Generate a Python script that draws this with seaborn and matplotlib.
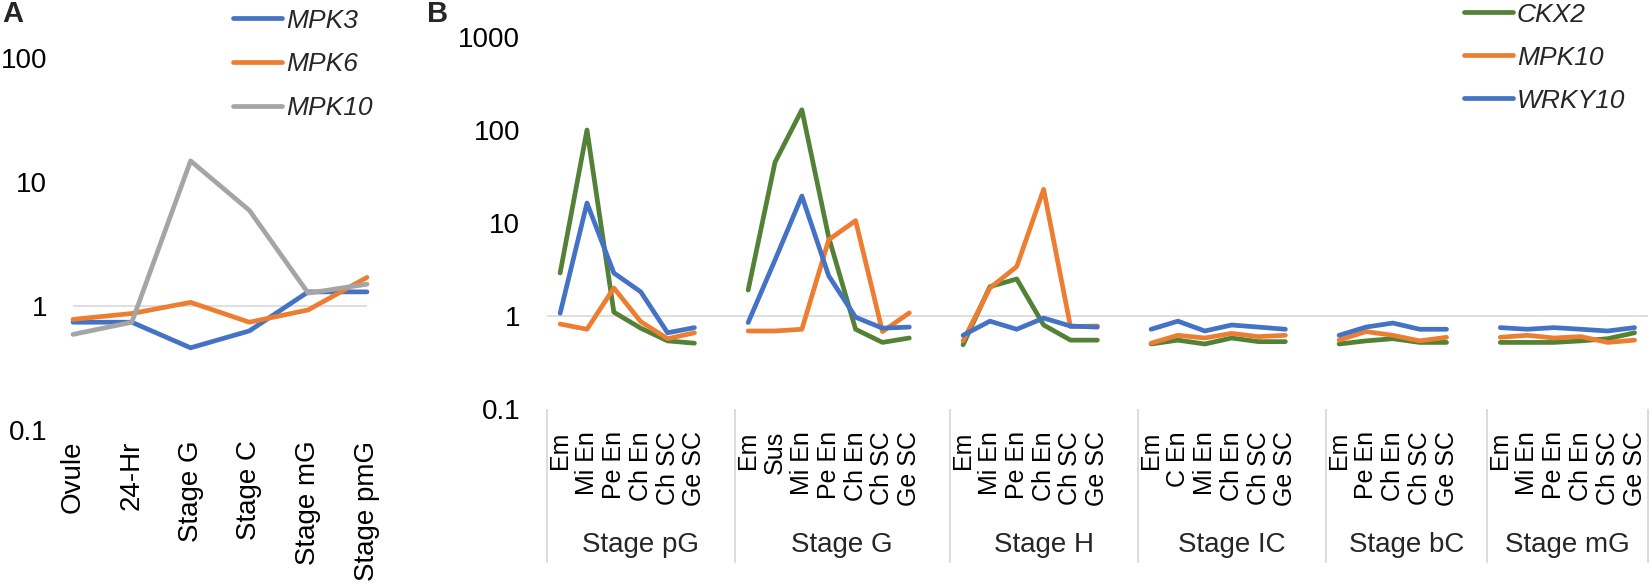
import numpy as np
import pandas as pd
import matplotlib
matplotlib.use("Agg")
import matplotlib.pyplot as plt
from matplotlib.lines import Line2D
from matplotlib.ticker import NullLocator
from matplotlib.transforms import blended_transform_factory
import seaborn as sns

# ---------------- Panel A data ----------------
groups_a = ["Ovule", "24-Hr", "Stage G", "Stage C", "Stage mG", "Stage pmG"]
genes_a = ["MPK3", "MPK6", "MPK10"]
mpk3_a = [0.74, 0.74, 0.46, 0.63, 1.30, 1.30]
mpk6_a = [0.78, 0.87, 1.07, 0.74, 0.93, 1.70]
mpk10_a = [0.59, 0.74, 14.8, 5.9, 1.27, 1.50]

# ---------------- Panel B data ----------------
stages_b = ["Stage pG", "Stage G", "Stage H", "Stage IC", "Stage bC", "Stage mG"]
tissues_pG = ["Em", "Mi En", "Pe En", "Ch En", "Ch SC", "Ge SC"]
tissues_G = ["Em", "Sus", "Mi En", "Pe En", "Ch En", "Ch SC", "Ge SC"]
tissues_H = ["Em", "Mi En", "Pe En", "Ch En", "Ch SC", "Ge SC"]
tissues_IC = ["Em", "C En", "Mi En", "Ch En", "Ch SC", "Ge SC"]
tissues_bC = ["Em", "Pe En", "Ch En", "Ch SC", "Ge SC"]
tissues_mG = ["Em", "Mi En", "Pe En", "Ch En", "Ch SC", "Ge SC"]

genes_b = ["CKX2", "MPK10", "WRKY10"]
ckx2_pG = [2.9, 100, 1.1, 0.74, 0.54, 0.51]
ckx2_G = [1.9, 45, 165, 7.0, 0.72, 0.52, 0.58]
ckx2_H = [0.49, 2.07, 2.5, 0.80, 0.55, 0.55]
ckx2_IC = [0.50, 0.55, 0.50, 0.58, 0.53, 0.53]
ckx2_bC = [0.50, 0.54, 0.57, 0.52, 0.52]
ckx2_mG = [0.52, 0.52, 0.52, 0.54, 0.57, 0.66]

mpk10_pG = [0.82, 0.72, 2.0, 0.87, 0.57, 0.66]
mpk10_G = [0.69, 0.69, 0.72, 6.6, 10.6, 0.68, 1.08]
mpk10_H = [0.54, 2.0, 3.4, 23.0, 0.77, 0.78]
mpk10_IC = [0.51, 0.62, 0.58, 0.65, 0.60, 0.62]
mpk10_bC = [0.55, 0.68, 0.62, 0.54, 0.59]
mpk10_mG = [0.59, 0.62, 0.58, 0.60, 0.52, 0.55]

wrky10_pG = [1.07, 16.4, 2.9, 1.82, 0.66, 0.75]
wrky10_G = [0.85, 4.0, 19.5, 2.7, 0.97, 0.74, 0.76]
wrky10_H = [0.62, 0.88, 0.72, 0.95, 0.78, 0.76]
wrky10_IC = [0.72, 0.88, 0.69, 0.80, 0.76, 0.72]
wrky10_bC = [0.62, 0.76, 0.84, 0.72, 0.72]
wrky10_mG = [0.75, 0.72, 0.75, 0.72, 0.69, 0.75]

yticks_a = [0.1, 1, 10, 100]
yticks_b = [0.1, 1, 10, 100, 1000]

# ---------------- styling ----------------
sns.set_theme(style="white")
plt.rcParams["font.family"] = ["Liberation Sans", "DejaVu Sans"]

c_blue = "#4472C4"
c_orange = "#ED7D31"
c_gray = "#A5A5A5"
c_green = "#538135"
c_grid = "#D9D9D9"
LW = 3.4

W, H = 1650, 588
fig = plt.figure(figsize=(W / 100, H / 100), dpi=100)

def fx(px):
    return px / W

def fy(py):
    return 1 - py / H

# ---------------- Panel A ----------------
axA = fig.add_axes([fx(73), fy(430), fx(367 - 73), (430 - 58) / H])
rows = []
for g, vals in zip(genes_a, [mpk3_a, mpk6_a, mpk10_a]):
    for i, (cat, v) in enumerate(zip(groups_a, vals)):
        rows.append({"gene": g, "pos": i, "value": v})
dfA = pd.DataFrame(rows)
palA = {"MPK3": c_blue, "MPK6": c_orange, "MPK10": c_gray}
axA.axhline(1, color=c_grid, lw=1.2, zorder=0)
sns.lineplot(data=dfA, x="pos", y="value", hue="gene", hue_order=genes_a,
             palette=palA, lw=LW, legend=False, ax=axA, sort=False,
             clip_on=False)
axA.set_yscale("log")
axA.set_ylim(0.1, 100)
axA.set_xlim(0, len(groups_a) - 1)
axA.set_yticks(yticks_a, ["0.1", "1", "10", "100"], fontsize=20)
axA.yaxis.set_minor_locator(NullLocator())
axA.set_xticks(range(len(groups_a)), groups_a, rotation=90, fontsize=20)
axA.tick_params(axis="y", length=0, pad=18.5, colors="black")
axA.tick_params(axis="x", length=0, pad=7.5, colors="black")
axA.set_xlabel("")
axA.set_ylabel("")
for s in axA.spines.values():
    s.set_visible(False)
axA.patch.set_alpha(0)

handlesA = [Line2D([], [], color=palA[g], lw=LW, solid_capstyle="round") for g in genes_a]
fig.legend(handlesA, genes_a, loc="upper left",
           bbox_to_anchor=(fx(233), fy(8.6)), bbox_transform=fig.transFigure,
           frameon=False, borderpad=0, borderaxespad=0, handlelength=1.85,
           handletextpad=0.15, labelspacing=0.75,
           prop={"style": "italic", "size": 19})

fig.text(fx(2), fy(0), "A", fontsize=21, fontweight="bold", va="top", ha="left")

# ---------------- Panel B ----------------
axB = fig.add_axes([fx(546.7), fy(409), fx(1648 - 546.7), (409 - 37) / H])
tissues_all = [tissues_pG, tissues_G, tissues_H, tissues_IC, tissues_bC, tissues_mG]
vals_all = {
    "CKX2": [ckx2_pG, ckx2_G, ckx2_H, ckx2_IC, ckx2_bC, ckx2_mG],
    "MPK10": [mpk10_pG, mpk10_G, mpk10_H, mpk10_IC, mpk10_bC, mpk10_mG],
    "WRKY10": [wrky10_pG, wrky10_G, wrky10_H, wrky10_IC, wrky10_bC, wrky10_mG],
}
# slot positions: one empty slot between stage groups
starts, pos = [], 0
for k, t in enumerate(tissues_all):
    starts.append(pos)
    pos += len(t) + (1 if k < len(tissues_all) - 1 else 0)
n_slots = pos

rows = []
for g in genes_b:
    for k, st in enumerate(stages_b):
        for j, v in enumerate(vals_all[g][k]):
            rows.append({"gene": g, "stage": st, "pos": starts[k] + j, "value": v})
dfB = pd.DataFrame(rows)
palB = {"CKX2": c_green, "MPK10": c_orange, "WRKY10": c_blue}
axB.axhline(1, color=c_grid, lw=1.2, zorder=0)
sns.lineplot(data=dfB, x="pos", y="value", hue="gene", hue_order=genes_b,
             units="stage", estimator=None, sort=False, palette=palB,
             lw=LW, legend=False, ax=axB)
axB.set_yscale("log")
axB.set_ylim(0.1, 1000)
axB.set_xlim(-0.5, n_slots - 0.5)
axB.set_yticks(yticks_b, ["0.1", "1", "10", "100", "1000"], fontsize=20)
axB.yaxis.set_minor_locator(NullLocator())
tick_pos, tick_lab = [], []
for k, t in enumerate(tissues_all):
    for j, lab in enumerate(t):
        tick_pos.append(starts[k] + j)
        tick_lab.append(lab)
axB.set_xticks(tick_pos, tick_lab, rotation=90, fontsize=18)
axB.tick_params(axis="y", length=0, pad=19, colors="black")
axB.tick_params(axis="x", length=0, pad=16, colors="black")
axB.set_xlabel("")
axB.set_ylabel("")
for s in axB.spines.values():
    s.set_visible(False)
axB.patch.set_alpha(0)

trans = blended_transform_factory(axB.transData, axB.transAxes)
bounds = [starts[0] - 0.5] + [starts[k] - 0.5 for k in range(1, len(starts))] + [n_slots - 0.5]
axB.vlines(bounds, 0, -(563 - 409) / 372, transform=trans, colors=c_grid,
           lw=1.3, clip_on=False)
for k, st in enumerate(stages_b):
    left = bounds[k]
    right = bounds[k + 1]
    axB.text((left + right) / 2, -(545 - 409) / 372, st, transform=trans,
             ha="center", va="center", fontsize=20)

handlesB = [Line2D([], [], color=palB[g], lw=LW, solid_capstyle="round") for g in genes_b]
fig.legend(handlesB, genes_b, loc="upper left",
           bbox_to_anchor=(fx(1464), fy(2.7)), bbox_transform=fig.transFigure,
           frameon=False, borderpad=0, borderaxespad=0, handlelength=1.85,
           handletextpad=0.15, labelspacing=0.72,
           prop={"style": "italic", "size": 19})

fig.text(fx(427), fy(0), "B", fontsize=21, fontweight="bold", va="top", ha="left")

fig.savefig("out.png", dpi=100)
